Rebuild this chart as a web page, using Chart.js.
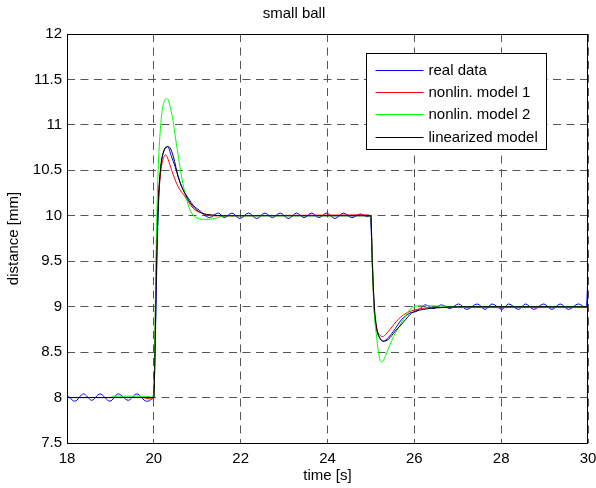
<!DOCTYPE html>
<html>
<head>
<meta charset="utf-8">
<script src="https://cdn.jsdelivr.net/npm/chart.js@4/dist/chart.umd.min.js"></script>
<style>
  html, body { margin: 0; padding: 0; background: #fff; }
  #plot { display: block; }
</style>
</head>
<body>
<canvas id="plot" width="596" height="488"></canvas>
<script>
const X_TICKS = [18, 20, 22, 24, 26, 28, 30];
const Y_TICKS = [7.5, 8, 8.5, 9, 9.5, 10, 10.5, 11, 11.5, 12];

// real data (measured, wavy)
const realT = [18.0, 18.18, 18.38, 18.57, 18.76, 18.99, 19.18, 19.41, 19.61, 19.83, 19.98,
  20.02, 20.05, 20.08, 20.12, 20.18, 20.25, 20.32, 20.4, 20.49, 20.64, 20.8, 20.92, 21.05,
  21.28, 21.49, 21.62, 21.8, 21.98, 22.18, 22.37, 22.56, 22.73, 22.91, 23.1, 23.29, 23.46,
  23.64, 23.8, 23.98, 24.17, 24.37, 24.56, 24.76, 24.92, 24.98,
  25.02, 25.05, 25.08, 25.13, 25.2, 25.29, 25.4, 25.52, 25.71, 25.9, 26.06, 26.25, 26.45,
  26.62, 26.82, 27.02, 27.21, 27.45, 27.63, 27.79, 28.02, 28.17, 28.4, 28.56, 28.75, 28.98,
  29.17, 29.36, 29.55, 29.78, 29.96, 30.0];
const realY = [8.03, 7.96, 8.04, 7.97, 8.04, 7.96, 8.04, 7.97, 8.04, 7.96, 8.01,
  8.3, 9.0, 9.7, 10.25, 10.6, 10.73, 10.76, 10.66, 10.54, 10.32, 10.19, 10.11, 10.06,
  9.98, 10.03, 9.98, 10.03, 9.97, 10.03, 9.97, 10.03, 9.98, 10.03, 9.97, 10.03, 9.98,
  10.03, 9.98, 10.03, 9.97, 10.03, 9.98, 10.02, 9.99, 10.0,
  9.7, 9.3, 8.95, 8.75, 8.66, 8.62, 8.66, 8.73, 8.86, 8.93, 8.95, 9.02, 8.98,
  9.02, 8.98, 9.03, 8.97, 9.03, 8.97, 9.03, 8.97, 9.03, 8.97, 9.03, 8.97, 9.03,
  8.97, 9.03, 8.97, 9.03, 8.99, 9.36];

// nonlinear model 1
const nl1T = [18.0, 19.75, 19.9, 20.0, 20.03, 20.06, 20.1, 20.15, 20.2, 20.27, 20.33, 20.41,
  20.56, 20.72, 20.91, 21.1, 21.33, 21.6, 24.9, 25.0, 25.03, 25.07, 25.12, 25.2, 25.27,
  25.35, 25.44, 25.63, 25.82, 26.06, 26.4, 27.0, 30.0];
const nl1Y = [8.0, 8.0, 7.985, 7.99, 8.8, 9.6, 10.15, 10.45, 10.6, 10.67, 10.62, 10.5,
  10.32, 10.21, 10.08, 10.03, 10.0, 10.0, 10.01, 10.0, 9.5, 9.0, 8.78, 8.69, 8.67,
  8.7, 8.75, 8.86, 8.93, 8.97, 8.99, 8.99, 8.99];

// nonlinear model 2
const nl2T = [18.0, 19.0, 19.05, 19.6, 19.9, 20.0, 20.03, 20.06, 20.1, 20.15, 20.2, 20.3,
  20.41, 20.53, 20.64, 20.76, 20.87, 21.0, 21.2, 21.4, 21.64, 25.0, 25.03, 25.07, 25.13,
  25.2, 25.25, 25.31, 25.37, 25.52, 25.71, 25.9, 26.13, 26.4, 27.0, 30.0];
const nl2Y = [8.0, 8.0, 8.015, 8.015, 8.01, 8.0, 8.9, 9.8, 10.5, 10.95, 11.18, 11.29,
  11.13, 10.76, 10.43, 10.17, 10.03, 9.975, 9.96, 9.97, 10.0, 10.0, 9.5, 9.0, 8.67,
  8.43, 8.39, 8.43, 8.5, 8.67, 8.83, 8.97, 9.01, 9.01, 9.0, 9.0];

// linearized model
const linT = [18.0, 20.0, 20.03, 20.06, 20.1, 20.15, 20.22, 20.32, 20.37, 20.45, 20.56,
  20.68, 20.8, 20.95, 21.1, 21.33, 21.6, 25.0, 25.03, 25.08, 25.13, 25.21, 25.29, 25.4,
  25.56, 25.75, 25.94, 26.21, 26.6, 27.0, 30.0];
const linY = [8.0, 8.0, 8.6, 9.4, 10.1, 10.5, 10.7, 10.76, 10.75, 10.65, 10.43,
  10.28, 10.17, 10.08, 10.03, 10.01, 10.0, 10.0, 9.5, 9.0, 8.78, 8.65, 8.62, 8.64,
  8.73, 8.83, 8.93, 8.97, 8.99, 9.0, 9.0];

const SERIES = [
  { label: 'real data', t: realT, y: realY, color: '#0000ff', order: 4 },
  { label: 'nonlin. model 1', t: nl1T, y: nl1Y, color: '#ff0000', order: 3 },
  { label: 'nonlin. model 2', t: nl2T, y: nl2Y, color: '#00ff00', order: 2 },
  { label: 'linearized model', t: linT, y: linY, color: '#000000', order: 1 }
];

const FONT = 'Liberation Sans, Arial, sans-serif';

// frame around the axes, MATLAB style
const framePlugin = {
  id: 'frame',
  afterDatasetsDraw(chart) {
    const { ctx, chartArea: a } = chart;
    ctx.save();
    ctx.strokeStyle = '#000';
    ctx.lineWidth = 1;
    ctx.strokeRect(Math.round(a.left) + 0.5, Math.round(a.top) + 0.5,
      Math.round(a.right - a.left) - 1, Math.round(a.bottom - a.top));
    ctx.restore();
  }
};

// boxed legend inside the axes, top right
const boxLegend = {
  id: 'boxLegend',
  afterDraw(chart) {
    const { ctx, chartArea: a } = chart;
    const w = 180, h = 96;
    const x0 = Math.round(a.right - 222) + 0.5;
    const y0 = Math.round(a.top + 19) + 0.5;
    ctx.save();
    ctx.fillStyle = '#fff';
    ctx.fillRect(x0, y0, w, h);
    ctx.strokeStyle = '#000';
    ctx.lineWidth = 1;
    ctx.strokeRect(x0, y0, w, h);
    ctx.font = '15px ' + FONT;
    ctx.textBaseline = 'middle';
    ctx.fillStyle = '#000';
    chart.data.datasets.forEach((ds, i) => {
      const cy = Math.round(y0 + 16 + i * 22.4) + 0.5;
      ctx.strokeStyle = ds.borderColor;
      ctx.beginPath();
      ctx.moveTo(x0 + 9, cy);
      ctx.lineTo(x0 + 57, cy);
      ctx.stroke();
      ctx.fillText(ds.label, x0 + 62, cy);
    });
    ctx.restore();
  }
};

new Chart(document.getElementById('plot'), {
  type: 'line',
  data: {
    datasets: SERIES.map(s => ({
      label: s.label,
      data: s.t.map((t, i) => ({ x: t, y: s.y[i] })),
      borderColor: s.color,
      backgroundColor: s.color,
      borderWidth: 1,
      pointRadius: 0,
      fill: false,
      cubicInterpolationMode: 'monotone',
      order: s.order
    }))
  },
  options: {
    responsive: false,
    animation: false,
    events: [],
    layout: { padding: { left: 0, right: 8, top: 0, bottom: 0 } },
    plugins: {
      legend: { display: false },
      tooltip: { enabled: false },
      title: {
        display: true,
        text: 'small ball',
        color: '#000',
        font: { family: FONT, size: 15, weight: 'normal' },
        padding: { top: 5, bottom: 11 }
      }
    },
    scales: {
      x: {
        type: 'linear',
        min: 18, max: 30,
        afterBuildTicks: sc => { sc.ticks = X_TICKS.map(v => ({ value: v })); },
        afterFit: sc => { sc.height = 45; sc.paddingLeft = 0; sc.paddingRight = 0; },
        ticks: {
          color: '#000', padding: 7, maxRotation: 0,
          font: { family: FONT, size: 15 },
          callback: v => String(v)
        },
        grid: { color: '#555', lineWidth: 1, drawTicks: false },
        border: { display: false, dash: [8, 5.5] },
        title: {
          display: true, text: 'time [s]', color: '#000',
          font: { family: FONT, size: 15 },
          padding: { top: 0, bottom: 3 }
        }
      },
      y: {
        type: 'linear',
        min: 7.5, max: 12,
        afterBuildTicks: sc => { sc.ticks = Y_TICKS.map(v => ({ value: v })); },
        afterFit: sc => { sc.width = 67; sc.paddingTop = 0; sc.paddingBottom = 0; },
        ticks: {
          color: '#000', padding: 5,
          font: { family: FONT, size: 15 },
          callback: v => String(v)
        },
        grid: { color: '#555', lineWidth: 1, drawTicks: false },
        border: { display: false, dash: [8, 5.5] },
        title: {
          display: true, text: 'distance [mm]', color: '#000',
          font: { family: FONT, size: 15 },
          padding: { top: 5, bottom: 0 }
        }
      }
    }
  },
  plugins: [framePlugin, boxLegend]
});
</script>
</body>
</html>
